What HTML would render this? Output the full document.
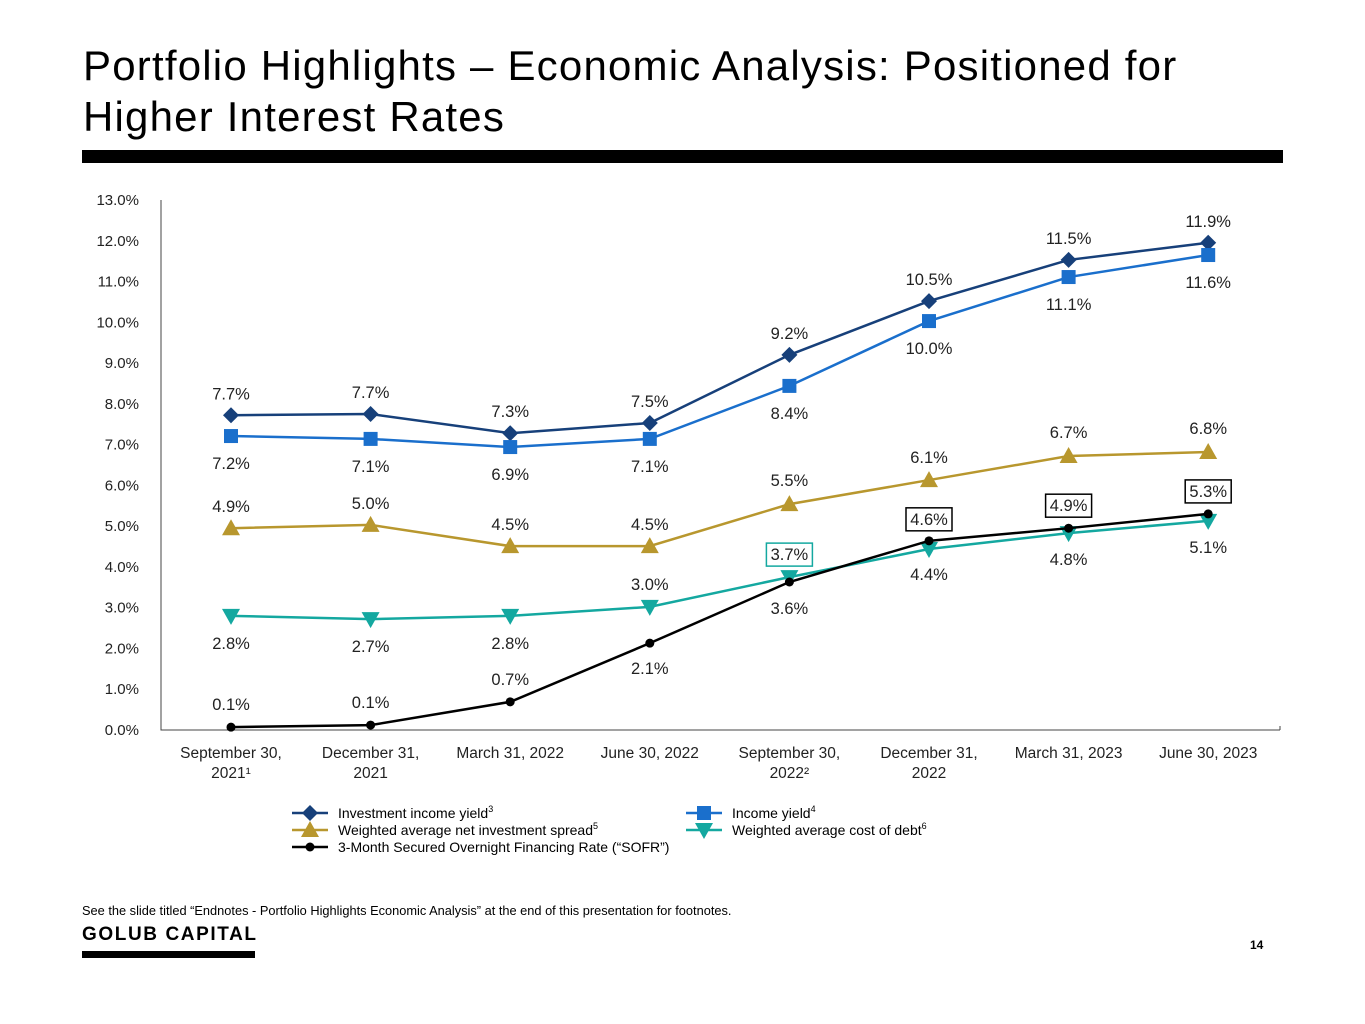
<!DOCTYPE html>
<html><head><meta charset="utf-8"><style>
body{margin:0;width:1365px;height:1024px;background:#fff;font-family:"Liberation Sans",sans-serif;position:relative;overflow:hidden}
.t{position:absolute;left:83px;top:40px;font-size:42px;line-height:51px;color:#000;letter-spacing:1.2px}
.bar{position:absolute;left:82px;top:150px;width:1201px;height:13px;background:#000}
</style></head><body>
<div class="t">Portfolio Highlights – Economic Analysis: Positioned for<br>Higher Interest Rates</div>
<div class="bar"></div>
<svg id="c" width="1365" height="1024" style="position:absolute;left:0;top:0" font-family="Liberation Sans, sans-serif"></svg>
<div style="position:absolute;left:82px;top:903px;font-size:12.8px">See the slide titled “Endnotes - Portfolio Highlights Economic Analysis” at the end of this presentation for footnotes.</div>
<div style="position:absolute;left:82px;top:924px;font-size:19px;font-weight:bold;letter-spacing:1.6px">GOLUB CAPITAL</div>
<div style="position:absolute;left:82px;top:951px;width:173px;height:7px;background:#000"></div>
<div style="position:absolute;left:1250px;top:938px;font-size:12px;font-weight:bold">14</div>
<script>
const categories=[["September 30,","2021¹"],["December 31,","2021"],["March 31, 2022"],["June 30, 2022"],["September 30,","2022²"],["December 31,","2022"],["March 31, 2023"],["June 30, 2023"]];
const yTicks=[0,1,2,3,4,5,6,7,8,9,10,11,12,13];
const investmentIncomeYield=[7.72,7.75,7.28,7.53,9.2,10.52,11.53,11.95];
const incomeYield=[7.21,7.14,6.94,7.14,8.44,10.03,11.11,11.65];
const netSpread=[4.95,5.03,4.51,4.51,5.54,6.13,6.72,6.82];
const costOfDebt=[2.8,2.72,2.8,3.02,3.75,4.44,4.83,5.13];
const sofr=[0.07,0.12,0.69,2.13,3.63,4.64,4.95,5.3];
const iiyLabels=["7.7%","7.7%","7.3%","7.5%","9.2%","10.5%","11.5%","11.9%"];
const iyLabels=["7.2%","7.1%","6.9%","7.1%","8.4%","10.0%","11.1%","11.6%"];
const spLabels=["4.9%","5.0%","4.5%","4.5%","5.5%","6.1%","6.7%","6.8%"];
const cdLabels=["2.8%","2.7%","2.8%","3.0%","3.7%","4.4%","4.8%","5.1%"];
const sfLabels=["0.1%","0.1%","0.7%","2.1%","3.6%","4.6%","4.9%","5.3%"];
const svg=document.getElementById('c');const NS='http://www.w3.org/2000/svg';
const x=i=>231+i*139.6;const y=v=>730-v*40.77;
function mk(t,a,p){const e=document.createElementNS(NS,t);for(const k in a)e.setAttribute(k,a[k]);(p||svg).appendChild(e);return e;}
const ax=mk('path',{d:'M161,200 V730 H1280 M1280,726 V730',stroke:'#444',fill:'none','stroke-width':1});

yTicks.forEach(v=>{const t=mk('text',{x:139,y:y(v)+5,'text-anchor':'end','font-size':15,fill:'#222'});t.textContent=v.toFixed(1)+'%';
});
categories.forEach((c,i)=>{c.forEach((l,j)=>{const t=mk('text',{x:x(i),y:758+j*20,'text-anchor':'middle','font-size':15.5,fill:'#222'});t.textContent=l;
});});
function marker(sh,cx,cy,col,g){
 if(sh==='d')mk('path',{d:`M${cx},${cy-8}L${cx+8},${cy}L${cx},${cy+8}L${cx-8},${cy}Z`,fill:col},g);
 else if(sh==='s')mk('rect',{x:cx-7,y:cy-7,width:14,height:14,fill:col},g);
 else if(sh==='u')mk('path',{d:`M${cx},${cy-9}L${cx+9},${cy+7}L${cx-9},${cy+7}Z`,fill:col},g);
 else if(sh==='v')mk('path',{d:`M${cx},${cy+9}L${cx+9},${cy-7}L${cx-9},${cy-7}Z`,fill:col},g);
 else mk('circle',{cx,cy,r:4.5,fill:col},g);}
function series(name,data,col,sh,labels,offs,boxes,boxCol){
 const g=mk('g',{});
 mk('polyline',{points:data.map((v,i)=>x(i)+','+y(v)).join(' '),fill:'none',stroke:col,'stroke-width':2.5},g);
 data.forEach((v,i)=>{marker(sh,x(i),y(v),col,g);
  const ly=y(v)+offs[i];
  if(boxes[i])mk('rect',{x:x(i)-23,y:ly-17,width:46,height:23,fill:'#fff',stroke:boxCol,'stroke-width':1.5},g);
  const t=mk('text',{x:x(i),y:ly,'text-anchor':'middle','font-size':16.5,fill:'#222'},g);t.textContent=labels[i];
  });}
const A=-16,B=33;
series('investment-income-yield-series',investmentIncomeYield,'#17407a','d',iiyLabels,[A,A,A,A,A,A,A,A],[],'');
series('income-yield-series',incomeYield,'#1a6fcc','s',iyLabels,[B,B,B,B,B,B,B,B],[],'');
series('net-spread-series',netSpread,'#b8972e','u',spLabels,[-16,-16,-16,-16,-18,-17,-18,-18],[],'');
series('cost-of-debt-series',costOfDebt,'#14a8a0','v',cdLabels,[33,33,33,-17,-17,31,32,32],[0,0,0,0,1,0,0,0],'#14a8a0');
series('sofr-series',sofr,'#000','c',sfLabels,[-17,-17,-17,31,32,-16,-17,-17],[0,0,0,0,0,1,1,1],'#000');
const leg=[[300,813,'#17407a','d','Investment income yield','3'],[694,813,'#1a6fcc','s','Income yield','4'],[300,830,'#b8972e','u','Weighted average net investment spread','5'],[694,830,'#14a8a0','v','Weighted average cost of debt','6'],[300,847,'#000','c','3-Month Secured Overnight Financing Rate (“SOFR”)','']];
leg.forEach(l=>{const g=mk('g',{});
 mk('line',{x1:l[0]-8,y1:l[1],x2:l[0]+28,y2:l[1],stroke:l[2],'stroke-width':2.5},g);marker(l[3],l[0]+10,l[1],l[2],g);
 const t=mk('text',{x:l[0]+38,y:l[1]+5,'font-size':14,fill:'#000'},g);t.textContent=l[4];
 if(l[5]){const s=mk('tspan',{'font-size':9,dy:-6},t);s.textContent=l[5];}});
</script>
</body></html>
